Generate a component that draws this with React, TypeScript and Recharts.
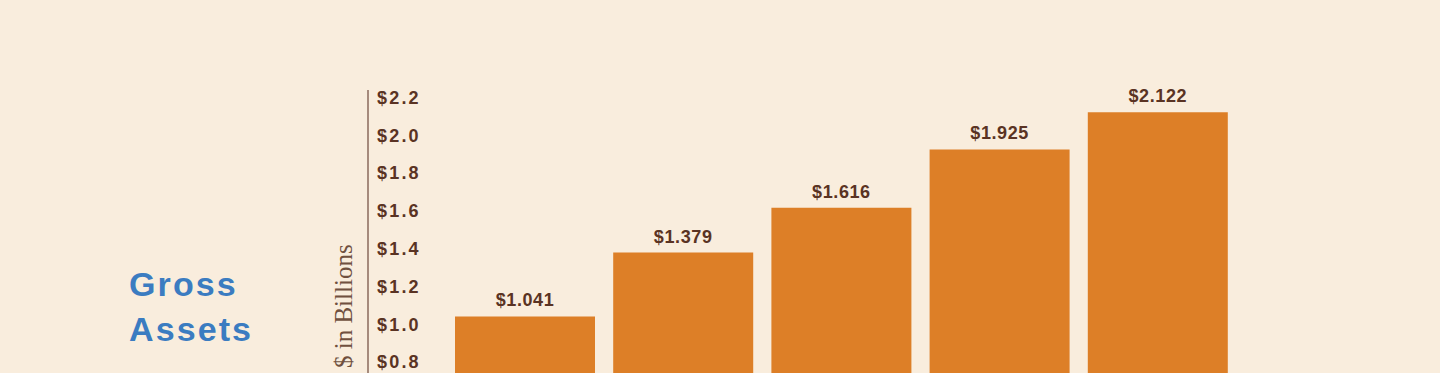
import { BarChart, Bar, XAxis, YAxis, LabelList } from 'recharts';

// 연도별 총자산 (단위: 십억 달러)
const categories = ['Year 1', 'Year 2', 'Year 3', 'Year 4', 'Year 5'];
const grossAssets = [1.041, 1.379, 1.616, 1.925, 2.122];
const yTicks = [0, 0.2, 0.4, 0.6, 0.8, 1.0, 1.2, 1.4, 1.6, 1.8, 2.0, 2.2];

const data = categories.map((name, i) => ({ name, value: grossAssets[i] }));

const BG = '#f9eddd';
const BAR = '#dd7f27';
const INK = '#5a3323';
const BLUE = '#3b7cc1';
const SANS = '"Liberation Sans", Arial, Helvetica, sans-serif';
const SERIF = '"Liberation Serif", "Times New Roman", serif';

const formatMoney = (v: number) => `$${v.toFixed(3)}`;

function TickLabel(props: any) {
  const { x, y, payload } = props;
  return (
    <text
      x={x + 9}
      y={y}
      dy="0.355em"
      textAnchor="start"
      fill={INK}
      fontFamily={SANS}
      fontWeight={700}
      fontSize={18}
      letterSpacing={2.2}
    >
      {`$${Number(payload.value).toFixed(1)}`}
    </text>
  );
}

export default function App() {
  return (
    <div
      style={{
        position: 'absolute',
        left: 0,
        top: 0,
        width: 1440,
        height: 560,
        background: BG,
        overflow: 'hidden',
      }}
    >
      <BarChart
        width={1440}
        height={560}
        data={data}
        margin={{ top: 90, right: 203, bottom: 47, left: 308 }}
      >
        <XAxis dataKey="name" hide padding={{ left: 78, right: 0 }} />
        <YAxis
          width={60}
          domain={[0, 2.24]}
          ticks={yTicks}
          interval={0}
          tickLine={false}
          tickSize={0}
          tickMargin={0}
          axisLine={{ stroke: '#8a6a5c', strokeWidth: 1.5 }}
          tick={<TickLabel />}
        />
        <Bar dataKey="value" fill={BAR} barSize={140} isAnimationActive={false}>
          <LabelList
            dataKey="value"
            position="top"
            offset={10}
            formatter={(v: any) => formatMoney(Number(v))}
            fill={INK}
            fontFamily={SANS}
            fontWeight={700}
            fontSize={18}
            letterSpacing={0.6}
          />
        </Bar>
      </BarChart>

      {/* 제목 + 세로 축 제목 */}
      <svg
        width={1440}
        height={560}
        style={{ position: 'absolute', left: 0, top: 0, pointerEvents: 'none' }}
      >
        <text x={129} y={296} fill={BLUE} fontFamily={SANS} fontWeight={700} fontSize={34} letterSpacing={2.1}>
          Gross
        </text>
        <text x={129} y={341} fill={BLUE} fontFamily={SANS} fontWeight={700} fontSize={34} letterSpacing={2.1}>
          Assets
        </text>
        <text
          x={352}
          y={368}
          transform="rotate(-90 352 368)"
          fill="#70503f"
          fontFamily={SERIF}
          fontSize={25}
          textAnchor="start"
        >
          $ in Billions
        </text>
      </svg>
    </div>
  );
}
